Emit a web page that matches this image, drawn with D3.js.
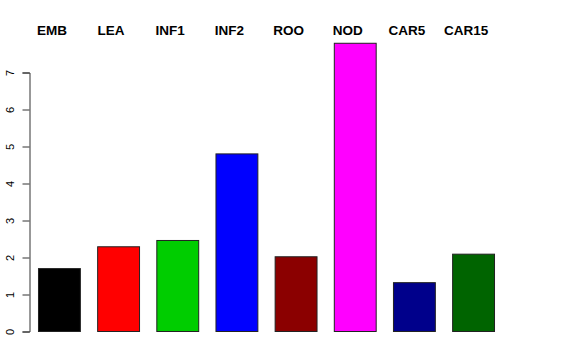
<!DOCTYPE html>
<html>
<head>
<meta charset="utf-8">
<style>
  body { margin: 0; background: #fff; font-family: "Liberation Sans", Arial, sans-serif; }
</style>
</head>
<body>
<script src="https://cdn.jsdelivr.net/npm/d3@7"></script>
<script>
var categories = ["EMB", "LEA", "INF1", "INF2", "ROO", "NOD", "CAR5", "CAR15"];
var values = [1.70, 2.29, 2.46, 4.80, 2.02, 7.79, 1.32, 2.09];
var colors = ["#000000", "#ff0000", "#00cd00", "#0000ff", "#8b0000", "#ff00ff", "#00008b", "#006400"];
var yTicks = [0, 1, 2, 3, 4, 5, 6, 7];

var width = 576, height = 360;

var svg = d3.select("body").append("svg")
    .attr("width", width)
    .attr("height", height);

var x = d3.scaleBand()
    .domain(categories)
    .range([29.35, 502.65])
    .paddingInner(0.292)
    .paddingOuter(0.146);

var y = d3.scaleLinear()
    .domain([0, 7])
    .range([331, 72]);

// bars
svg.selectAll("rect.bar")
    .data(values)
    .enter().append("rect")
    .attr("class", "bar")
    .attr("x", function (d, i) { return x(categories[i]) + 0.5; })
    .attr("y", function (d) { return y(d) + 0.5; })
    .attr("width", x.bandwidth())
    .attr("height", function (d) { return y(0) - y(d); })
    .attr("fill", function (d, i) { return colors[i]; })
    .attr("stroke", "#222")
    .attr("stroke-width", 1);

// y axis
var axis = svg.append("g")
    .attr("transform", "translate(29.5,0.5)")
    .call(d3.axisLeft(y).tickValues(yTicks).tickSize(7).tickFormat(d3.format("d")));
axis.select(".domain").attr("stroke", "#333");
axis.selectAll(".tick line").attr("stroke", "#333");
axis.selectAll(".tick text")
    .attr("font-family", "Liberation Sans, Arial, sans-serif")
    .attr("font-size", "11px")
    .attr("fill", "#000")
    .attr("text-anchor", "middle")
    .attr("transform", "rotate(-90)")
    .attr("x", 0)
    .attr("y", -19)
    .attr("dy", "0.35em");

// category labels on top
svg.selectAll("text.cat")
    .data(categories)
    .enter().append("text")
    .attr("class", "cat")
    .attr("x", function (d) { return x(d) + x.bandwidth() / 2 - 7; })
    .attr("y", 35)
    .attr("text-anchor", "middle")
    .attr("font-weight", "bold")
    .attr("font-size", "13.5px")
    .text(function (d) { return d; });
</script>
</body>
</html>
